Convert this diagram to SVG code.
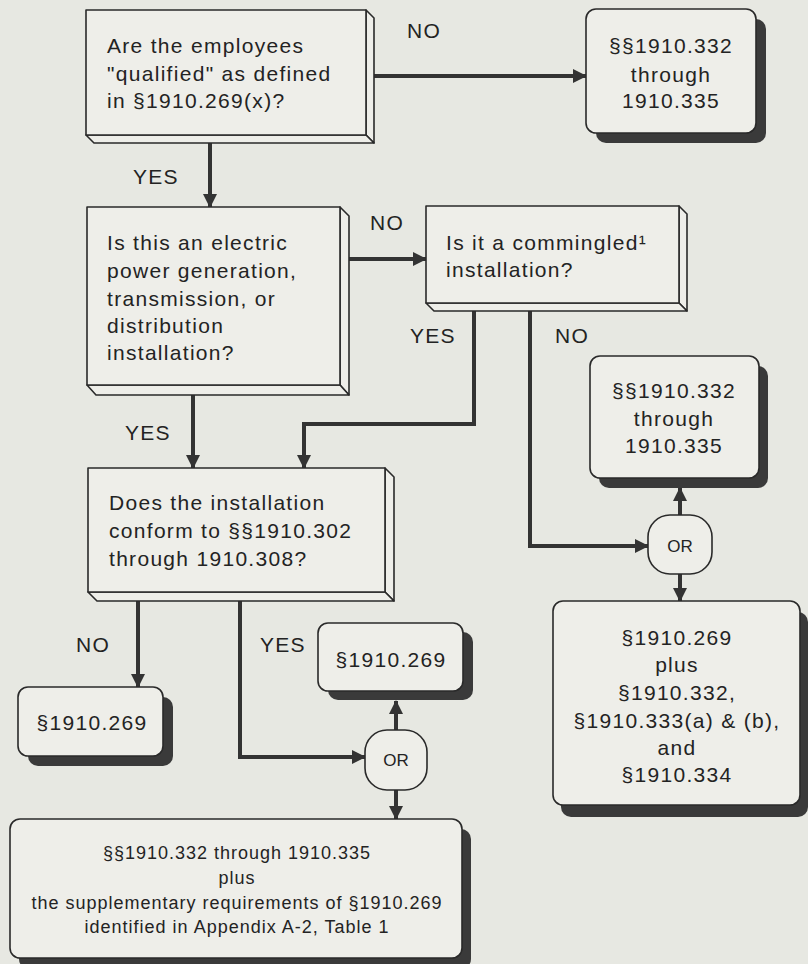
<svg xmlns="http://www.w3.org/2000/svg" width="808" height="964" viewBox="0 0 808 964">
<defs>
<style>
.bg{fill:#e7e8e2}
.face{fill:#eeeee9;stroke:#2a2a2a;stroke-width:1.6;stroke-linejoin:round}
.card{fill:#eeeee9;stroke:#2a2a2a;stroke-width:1.6}
.shadow{fill:#3a3a3a}
.t{font-family:"Liberation Sans",Arial,Helvetica,sans-serif;font-size:21px;fill:#232323;letter-spacing:1.3px}
.s{font-family:"Liberation Sans",Arial,Helvetica,sans-serif;font-size:18px;fill:#232323;letter-spacing:1px}
.or{font-family:"Liberation Sans",Arial,Helvetica,sans-serif;font-size:17px;fill:#232323}
.c{text-anchor:middle}
.conn{fill:none;stroke:#333;stroke-width:4;stroke-linejoin:miter}
</style>
<marker id="ah" markerUnits="userSpaceOnUse" markerWidth="14" markerHeight="14" viewBox="0 0 14 14" refX="13" refY="7" orient="auto">
<path d="M0,0 L14,7 L0,14 Z" fill="#333"/>
</marker>
</defs>
<rect class="bg" x="0" y="0" width="808" height="964"/>

<g id="connectors">
<path class="conn" d="M374,76 H586" marker-end="url(#ah)"/>
<path class="conn" d="M210,143 V207" marker-end="url(#ah)"/>
<path class="conn" d="M349,259 H426" marker-end="url(#ah)"/>
<path class="conn" d="M193,395 V468" marker-end="url(#ah)"/>
<path class="conn" d="M474,311 V424 H304 V468" marker-end="url(#ah)"/>
<path class="conn" d="M530,311 V546 H648" marker-end="url(#ah)"/>
<path class="conn" d="M680,515 V488" marker-end="url(#ah)"/>
<path class="conn" d="M680,574 V601" marker-end="url(#ah)"/>
<path class="conn" d="M138,601 V687" marker-end="url(#ah)"/>
<path class="conn" d="M240,601 V757 H365" marker-end="url(#ah)"/>
<path class="conn" d="M396,730 V701" marker-end="url(#ah)"/>
<path class="conn" d="M396,790 V819" marker-end="url(#ah)"/>
<g id="labels">
<text class="t" x="407" y="38">NO</text>
<text class="t" x="133" y="184">YES</text>
<text class="t" x="370" y="230">NO</text>
<text class="t" x="410" y="343">YES</text>
<text class="t" x="555" y="343">NO</text>
<text class="t" x="125" y="440">YES</text>
<text class="t" x="76" y="652">NO</text>
<text class="t" x="260" y="652">YES</text>
</g>
</g>

<g id="q-qualified">
<polygon class="face" points="366,10 374,18 374,143 366,135"/>
<polygon class="face" points="86,135 366,135 374,143 94,143"/>
<rect class="face" x="86" y="10" width="280" height="125"/>
<text class="t" x="107" y="53">Are the employees</text>
<text class="t" x="107" y="81">"qualified" as defined</text>
<text class="t" x="107" y="108">in §1910.269(x)?</text>
</g>

<g id="r-332-335-top">
<rect class="shadow" x="596" y="19" width="170" height="124" rx="10"/>
<rect class="card" x="586" y="9" width="170" height="124" rx="10"/>
<text class="t c" x="671" y="53">§§1910.332</text>
<text class="t c" x="671" y="82">through</text>
<text class="t c" x="671" y="108">1910.335</text>
</g>

<g id="q-electric">
<polygon class="face" points="340,207 349,216 349,395 340,385"/>
<polygon class="face" points="87,385 340,385 349,395 96,395"/>
<rect class="face" x="87" y="207" width="253" height="178"/>
<text class="t" x="107" y="250">Is this an electric</text>
<text class="t" x="107" y="278">power generation,</text>
<text class="t" x="107" y="306">transmission, or</text>
<text class="t" x="107" y="333">distribution</text>
<text class="t" x="107" y="360">installation?</text>
</g>

<g id="q-commingled">
<polygon class="face" points="679,206 687,214 687,311 679,303"/>
<polygon class="face" points="426,303 679,303 687,311 434,311"/>
<rect class="face" x="426" y="206" width="253" height="97"/>
<text class="t" x="446" y="250">Is it a commingled¹</text>
<text class="t" x="446" y="277">installation?</text>
</g>

<g id="q-conform">
<polygon class="face" points="385,468 394,477 394,601 385,592"/>
<polygon class="face" points="88,592 385,592 394,601 97,601"/>
<rect class="face" x="88" y="468" width="297" height="124"/>
<text class="t" x="109" y="510">Does the installation</text>
<text class="t" x="109" y="538">conform to §§1910.302</text>
<text class="t" x="109" y="566">through 1910.308?</text>
</g>

<g id="r-332-335-right">
<rect class="shadow" x="599" y="366" width="169" height="122" rx="10"/>
<rect class="card" x="590" y="356" width="169" height="122" rx="10"/>
<text class="t c" x="674" y="398">§§1910.332</text>
<text class="t c" x="674" y="426">through</text>
<text class="t c" x="674" y="453">1910.335</text>
</g>

<g id="or-right">
<rect class="card" x="648" y="515" width="64" height="59" rx="22"/>
<text class="or c" x="680" y="552">OR</text>
</g>

<g id="r-269-plus">
<rect class="shadow" x="561" y="612" width="247" height="205" rx="10"/>
<rect class="card" x="553" y="601" width="247" height="204" rx="10"/>
<text class="t c" x="677" y="645">§1910.269</text>
<text class="t c" x="677" y="672">plus</text>
<text class="t c" x="677" y="700">§1910.332,</text>
<text class="t c" x="677" y="728">§1910.333(a) &amp; (b),</text>
<text class="t c" x="677" y="755">and</text>
<text class="t c" x="677" y="782">§1910.334</text>
</g>

<g id="r-269-left">
<rect class="shadow" x="28" y="697" width="145" height="69" rx="10"/>
<rect class="card" x="18" y="687" width="145" height="69" rx="10"/>
<text class="t c" x="92" y="730">§1910.269</text>
</g>

<g id="r-269-mid">
<rect class="shadow" x="328" y="632" width="145" height="68" rx="10"/>
<rect class="card" x="318" y="623" width="145" height="68" rx="10"/>
<text class="t c" x="391" y="667">§1910.269</text>
</g>

<g id="or-mid">
<rect class="card" x="365" y="730" width="62" height="60" rx="22"/>
<text class="or c" x="396" y="766">OR</text>
</g>

<g id="r-bottom">
<rect class="shadow" x="19" y="829" width="452" height="140" rx="10"/>
<rect class="card" x="10" y="819" width="452" height="139" rx="10"/>
<text class="s c" x="237" y="859">§§1910.332 through 1910.335</text>
<text class="s c" x="237" y="884">plus</text>
<text class="s c" x="237" y="909">the supplementary requirements of §1910.269</text>
<text class="s c" x="237" y="933">identified in Appendix A-2, Table 1</text>
</g>
</svg>
